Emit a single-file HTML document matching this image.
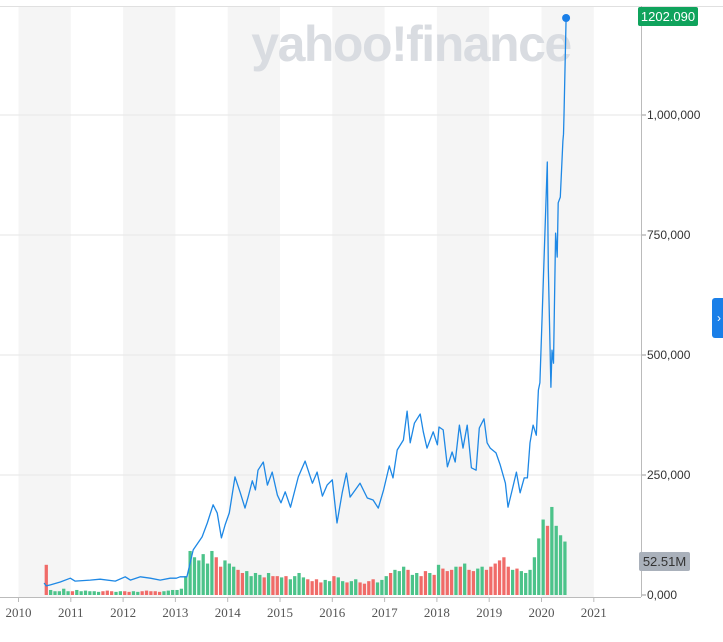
<!DOCTYPE html>
<html><head><meta charset="utf-8">
<style>
html,body{margin:0;padding:0;background:#fff;}
svg{display:block;}
</style></head>
<body>
<svg id="chart" width="723" height="642" viewBox="0 0 723 642" xmlns="http://www.w3.org/2000/svg">
  <g id="bands"></g>
  <g id="grid"></g>
  <text x="411" y="61" text-anchor="middle" font-family="Liberation Sans, sans-serif" font-weight="bold" font-size="50" fill="#d9dce1" letter-spacing="-1.5">yahoo!finance</text>
  <g id="vol"></g>
  <g id="price"></g>
  <g id="axes"></g>
  <g>
    <rect x="638" y="7" width="60" height="19" rx="2" fill="#0fa35c"/>
    <text x="668" y="21" text-anchor="middle" font-family="Liberation Sans, sans-serif" font-size="13" fill="#fff">1202.090</text>
  </g>
  <g>
    <rect x="639" y="552" width="51" height="19" rx="2" fill="#aab1bb"/>
    <text x="664.5" y="566" text-anchor="middle" font-family="Liberation Sans, sans-serif" font-size="13" fill="#333">52.51M</text>
  </g>
  <g>
    <rect x="712" y="298" width="14" height="40" rx="3" fill="#1a7fe8"/>
    <text x="719" y="322" text-anchor="middle" font-family="Liberation Sans, sans-serif" font-size="12" fill="#fff">›</text>
  </g>
</svg>
<script>
const years = [2010,2011,2012,2013,2014,2015,2016,2017,2018,2019,2020,2021,2022];
const yTicks = [0,250000,500000,750000,1000000];
const yTickLabels = ["0,000","250,000","500,000","750,000","1,000,000"];
const priceDates = [2010.49,2010.53,2010.61,2010.80,2010.99,2011.08,2011.37,2011.56,2011.85,2012.04,2012.14,2012.33,2012.52,2012.71,2012.90,2013.02,2013.09,2013.22,2013.34,2013.51,2013.61,2013.72,2013.80,2013.88,2013.95,2014.03,2014.14,2014.24,2014.33,2014.39,2014.47,2014.53,2014.58,2014.68,2014.76,2014.85,2014.95,2015.02,2015.10,2015.20,2015.35,2015.48,2015.62,2015.71,2015.81,2015.90,2016.00,2016.09,2016.19,2016.27,2016.34,2016.44,2016.53,2016.67,2016.78,2016.88,2016.98,2017.09,2017.16,2017.24,2017.36,2017.43,2017.49,2017.57,2017.68,2017.74,2017.81,2017.93,2018.01,2018.04,2018.12,2018.20,2018.29,2018.35,2018.43,2018.50,2018.58,2018.66,2018.75,2018.81,2018.90,2018.96,2019.02,2019.13,2019.21,2019.31,2019.36,2019.44,2019.52,2019.59,2019.67,2019.73,2019.78,2019.84,2019.90,2019.94,2019.97,2020.11,2020.13,2020.18,2020.20,2020.23,2020.27,2020.30,2020.32,2020.36,2020.41,2020.42,2020.43,2020.47];
const priceValues = [25,19,21,27,35,29,31,33,29,38,31,38,35,31,35,35,38,38,94,121,150,188,171,119,146,171,246,213,181,204,238,219,260,277,229,256,208,192,215,183,246,279,233,256,206,229,240,150,213,254,204,219,233,202,198,181,219,269,244,302,323,383,317,358,377,340,306,340,313,350,344,267,298,277,354,306,354,265,260,348,367,317,306,296,271,233,183,219,256,213,244,244,317,354,333,427,442,902,683,433,510,483,754,704,817,829,946,960,1000,1202.09];
const volStart = 2010.5;
const volumeM = [48,8,6,6,10,6,
 6,8,6,7,6,6,5,6,7,6,5,6,
 6,5,6,5,6,7,6,6,5,6,7,8,
 8,10,30,70,60,55,65,50,70,60,45,55,
 50,45,40,35,38,30,35,32,28,35,30,30,
 28,30,25,30,35,28,25,22,25,20,24,22,
 30,28,22,20,22,25,20,18,22,25,20,24,
 30,35,40,38,45,40,32,35,30,38,35,32,
 48,42,38,40,45,45,50,40,38,42,45,40,
 45,50,55,60,45,40,42,38,35,40,60,90,
 120,110,140,110,95,85];

const NS="http://www.w3.org/2000/svg";
const X0=18.5, PX_PER_YEAR=52.3, Y0=595, PX_PER_UNIT=480/1000000, AXIS_X=641;
const xs = y => X0 + (y-2010)*PX_PER_YEAR;
const ys = v => Y0 - v*PX_PER_UNIT;
const vs = m => m/1.59;
function mk(tag, attrs, parent){const e=document.createElementNS(NS,tag);for(const k in attrs)e.setAttribute(k,attrs[k]);parent.appendChild(e);return e;}

const bands=document.getElementById('bands');
for(let i=0;i<years.length-1;i+=2){
  const x1=xs(years[i]), x2=Math.min(xs(years[i+1]),AXIS_X);
  const r=mk('rect',{x:x1,y:6,width:x2-x1,height:591,fill:'#f5f5f5'},bands);
  
  
}
const grid=document.getElementById('grid');
const axes=document.getElementById('axes');
yTicks.forEach((t,i)=>{
  const y=ys(t);
  if(t>0){const l=mk('line',{x1:0,x2:AXIS_X,y1:y,y2:y,stroke:'#e6e6e6','stroke-width':1},grid);
  
  }
  mk('line',{x1:AXIS_X,x2:AXIS_X+5,y1:y,y2:y,stroke:'#999'},axes);
  const tx=mk('text',{x:AXIS_X+6,y:y+4,'font-family':'Liberation Sans, sans-serif','font-size':12,fill:'#333'},axes);
  tx.textContent=yTickLabels[i];
  
  
});
mk('line',{x1:0,x2:723,y1:6.5,y2:6.5,stroke:'#e0e0e0'},axes);
mk('line',{x1:AXIS_X+0.5,x2:AXIS_X+0.5,y1:6,y2:597,stroke:'#bbb'},axes);
mk('line',{x1:0,x2:AXIS_X,y1:597.5,y2:597.5,stroke:'#bbb'},axes);
years.forEach(yr=>{
  const x=xs(yr);
  if(x>AXIS_X)return;
  mk('line',{x1:x,x2:x,y1:597,y2:602,stroke:'#bbb'},axes);
  const tx=mk('text',{x:x,y:617,'text-anchor':'middle','font-family':'Liberation Serif, serif','font-size':13,fill:'#555'},axes);
  tx.textContent=String(yr);
  
  
});

function priceAt(t){
  for(let i=1;i<priceDates.length;i++){if(priceDates[i]>=t){const a=priceDates[i-1],b=priceDates[i];return priceValues[i-1]+(priceValues[i]-priceValues[i-1])*(t-a)/(b-a);}}
  return priceValues[priceValues.length-1];
}
const vol=document.getElementById('vol');
const mw=PX_PER_YEAR/12;
volumeM.forEach((m,i)=>{
  const t=volStart+i/12;
  const up=priceAt(Math.min(t+1/12,priceDates[priceDates.length-1]))>=priceAt(Math.max(t,priceDates[0]));
  const h=vs(m);
  const r=mk('rect',{x:xs(t),y:Y0-h,width:mw*0.75,height:h,fill:up?'#4cc38a':'#f06b68'},vol);
  
  
});

const price=document.getElementById('price');
const pts=priceDates.map((d,i)=>xs(d).toFixed(1)+','+ys(priceValues[i]*1000).toFixed(1)).join(' ');
const pl=mk('polyline',{points:pts,fill:'none',stroke:'#1e88e5','stroke-width':1.3,'stroke-linejoin':'round'},price);


const last=priceDates.length-1;
const dot=mk('circle',{cx:xs(priceDates[last]),cy:ys(priceValues[last]*1000),r:4,fill:'#1a7fe8'},price);


</script>
</body></html>
